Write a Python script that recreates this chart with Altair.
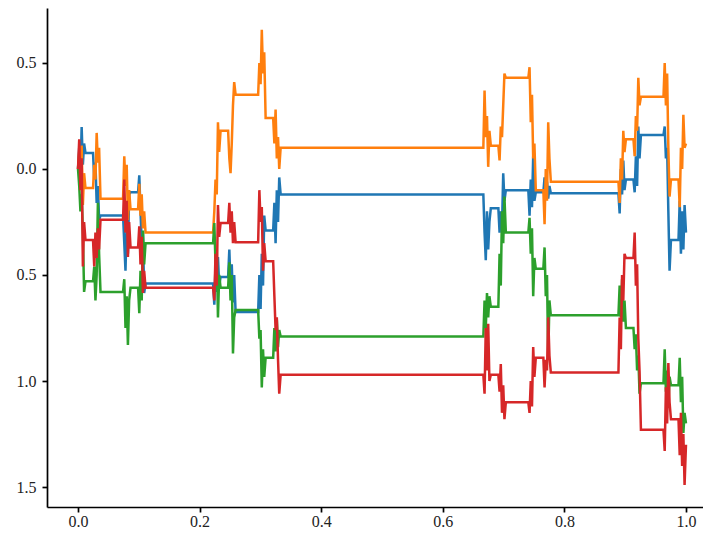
import altair as alt
import pandas as pd

# Start of each small active time interval (Cantor-set pieces) and the sample offsets inside them
STARTS = [0.0, 0.0247, 0.0741, 0.0988, 0.2222, 0.2469, 0.2963, 0.3210,
          0.6667, 0.6914, 0.7407, 0.7654, 0.8889, 0.9136, 0.9630, 0.9877]
OFFSETS = [0.0, 0.002, 0.004, 0.006, 0.008, 0.010, 0.0123]

SERIES = ["s1", "s2", "s3", "s4"]
COLORS = ["#1f77b4", "#ff7f0e", "#2ca02c", "#d62728"]

BLUE = [
    [0, 0.10, -0.03, 0.198, 0.02, 0.12, 0.075],
    [0.075, -0.05, 0.03, -0.16, -0.08, -0.24, -0.22],
    [-0.22, -0.35, -0.48, -0.25, -0.40, -0.12, -0.11],
    [-0.11, -0.03, -0.20, -0.35, -0.30, -0.585, -0.54],
    [-0.54, -0.64, -0.45, -0.58, -0.415, -0.55, -0.51],
    [-0.51, -0.38, -0.55, -0.45, -0.63, -0.50, -0.675],
    [-0.675, -0.50, -0.66, -0.40, -0.55, -0.22, -0.29],
    [-0.29, -0.16, -0.35, -0.10, -0.25, -0.04, -0.12],
    [-0.12, -0.30, -0.43, -0.20, -0.38, -0.25, -0.185],
    [-0.185, -0.30, -0.20, -0.27, -0.02, -0.15, -0.10],
    [-0.10, -0.22, -0.05, -0.18, 0.06, -0.15, -0.11],
    [-0.11, -0.04, -0.13, -0.06, -0.14, -0.08, -0.115],
    [-0.115, -0.21, 0.0, -0.12, 0.04, -0.10, -0.05],
    [-0.05, -0.11, 0.06, -0.08, 0.20, 0.05, 0.16],
    [0.16, 0.20, 0.05, 0.10, -0.20, -0.48, -0.335],
    [-0.335, -0.15, -0.40, -0.20, -0.38, -0.17, -0.30],
]

ORANGE = [
    [0, 0.08, -0.05, 0.11, -0.17, -0.02, -0.09],
    [-0.09, 0.02, -0.05, 0.17, 0.03, 0.10, -0.14],
    [-0.14, 0.06, -0.08, 0.02, -0.24, -0.10, -0.19],
    [-0.19, -0.07, -0.22, -0.12, -0.28, -0.20, -0.30],
    [-0.30, -0.20, -0.05, -0.12, 0.22, 0.08, 0.18],
    [0.18, 0.05, -0.02, 0.12, 0.30, 0.41, 0.35],
    [0.35, 0.50, 0.40, 0.656, 0.45, 0.55, 0.24],
    [0.24, 0.12, 0.28, 0.05, 0.15, 0.0, 0.10],
    [0.10, 0.37, 0.15, 0.25, 0.01, 0.18, 0.11],
    [0.11, 0.04, 0.20, 0.15, 0.30, 0.45, 0.43],
    [0.43, 0.48, 0.22, 0.35, 0.05, 0.12, -0.10],
    [-0.10, -0.26, 0.0, -0.15, 0.22, 0.05, -0.06],
    [-0.06, -0.16, 0.05, -0.05, 0.18, 0.08, 0.14],
    [0.14, 0.06, 0.25, 0.18, 0.43, 0.30, 0.34],
    [0.34, 0.50, 0.30, 0.45, 0.10, -0.13, -0.05],
    [-0.05, -0.18, 0.10, 0.0, 0.255, 0.10, 0.12],
]

GREEN = [
    [0, -0.08, -0.20, -0.12, -0.30, -0.58, -0.53],
    [-0.53, -0.46, -0.62, -0.50, -0.16, -0.40, -0.58],
    [-0.58, -0.52, -0.75, -0.60, -0.83, -0.62, -0.56],
    [-0.56, -0.68, -0.48, -0.62, -0.29, -0.45, -0.35],
    [-0.35, -0.255, -0.45, -0.38, -0.70, -0.50, -0.56],
    [-0.56, -0.44, -0.62, -0.50, -0.87, -0.70, -0.665],
    [-0.665, -0.80, -0.76, -1.03, -0.85, -0.98, -0.89],
    [-0.89, -0.75, -0.86, -0.71, -0.84, -0.76, -0.79],
    [-0.79, -0.62, -0.75, -0.585, -0.70, -0.60, -0.65],
    [-0.65, -0.40, -0.55, -0.20, -0.35, -0.13, -0.30],
    [-0.30, -0.23, -0.40, -0.28, -0.60, -0.42, -0.47],
    [-0.47, -0.37, -0.60, -0.50, -0.90, -0.62, -0.69],
    [-0.69, -0.55, -0.70, -0.52, -0.72, -0.62, -0.75],
    [-0.75, -0.85, -0.78, -0.95, -0.88, -1.06, -1.01],
    [-1.01, -0.85, -1.05, -0.95, -1.12, -0.98, -1.02],
    [-1.02, -0.89, -1.10, -0.98, -1.245, -1.15, -1.20],
]

RED = [
    [0, 0.14, -0.10, 0.05, -0.46, -0.25, -0.335],
    [-0.335, -0.46, -0.30, -0.42, -0.28, -0.38, -0.24],
    [-0.24, -0.05, -0.30, -0.15, -0.415, -0.25, -0.37],
    [-0.37, -0.27, -0.45, -0.32, -0.585, -0.48, -0.56],
    [-0.56, -0.62, -0.40, -0.55, -0.17, -0.32, -0.255],
    [-0.255, -0.16, -0.30, -0.20, -0.35, -0.25, -0.345],
    [-0.345, -0.10, -0.25, -0.18, -0.48, -0.35, -0.435],
    [-0.435, -0.60, -0.76, -0.70, -0.90, -1.06, -0.97],
    [-0.97, -1.06, -0.75, -0.95, -0.73, -1.00, -0.97],
    [-0.97, -1.05, -0.92, -1.15, -1.02, -1.18, -1.10],
    [-1.10, -1.15, -1.00, -1.12, -0.84, -0.98, -0.89],
    [-0.89, -1.03, -0.90, -0.95, -0.70, -0.88, -0.96],
    [-0.96, -0.70, -0.85, -0.50, -0.62, -0.40, -0.42],
    [-0.42, -0.30, -0.55, -0.45, -0.80, -0.95, -1.23],
    [-1.23, -1.33, -1.03, -1.20, -0.915, -1.10, -1.18],
    [-1.18, -1.35, -1.15, -1.40, -1.25, -1.49, -1.30],
]

X_TICKS = [0.0, 0.2, 0.4, 0.6, 0.8, 1.0]
Y_TICKS = [-1.5, -1.0, -0.5, 0.0, 0.5]

rows = []
for name, blocks in zip(SERIES, [BLUE, ORANGE, GREEN, RED]):
    i = 0
    for s, block in zip(STARTS, blocks):
        for off, v in zip(OFFSETS, block):
            rows.append({"series": name, "t": round(s + off, 5), "v": v, "i": i})
            i += 1
df = pd.DataFrame(rows)

FONT = "Liberation Serif"

chart = alt.Chart(df).mark_line(strokeWidth=2.5, clip=True).encode(
    x=alt.X("t:Q",
            scale=alt.Scale(domain=[-0.051, 1.028], nice=False, zero=False),
            axis=alt.Axis(values=X_TICKS, format=".1f", title=None, grid=False,
                          labelPadding=1, tickSize=5)),
    y=alt.Y("v:Q",
            scale=alt.Scale(domain=[-1.594, 0.759], nice=False, zero=False),
            axis=alt.Axis(values=Y_TICKS, title=None, grid=False,
                          labelExpr="format(abs(datum.value), '.1f')",
                          labelPadding=6, tickSize=5)),
    color=alt.Color("series:N", scale=alt.Scale(domain=SERIES, range=COLORS), legend=None),
    order=alt.Order("i:Q"),
).properties(
    width=656, height=499,
    autosize=alt.AutoSizeParams(type="none"),
    padding={"left": 39, "top": 0, "right": 0, "bottom": 21},
).configure_view(strokeWidth=0).configure_axis(
    domainColor="#000000", domainWidth=1.7,
    tickColor="#000000", tickWidth=1.7,
    labelFont=FONT, labelFontSize=16, labelColor="#222222",
)

chart.save("out.html", embed_options={"renderer": "svg", "actions": False})
